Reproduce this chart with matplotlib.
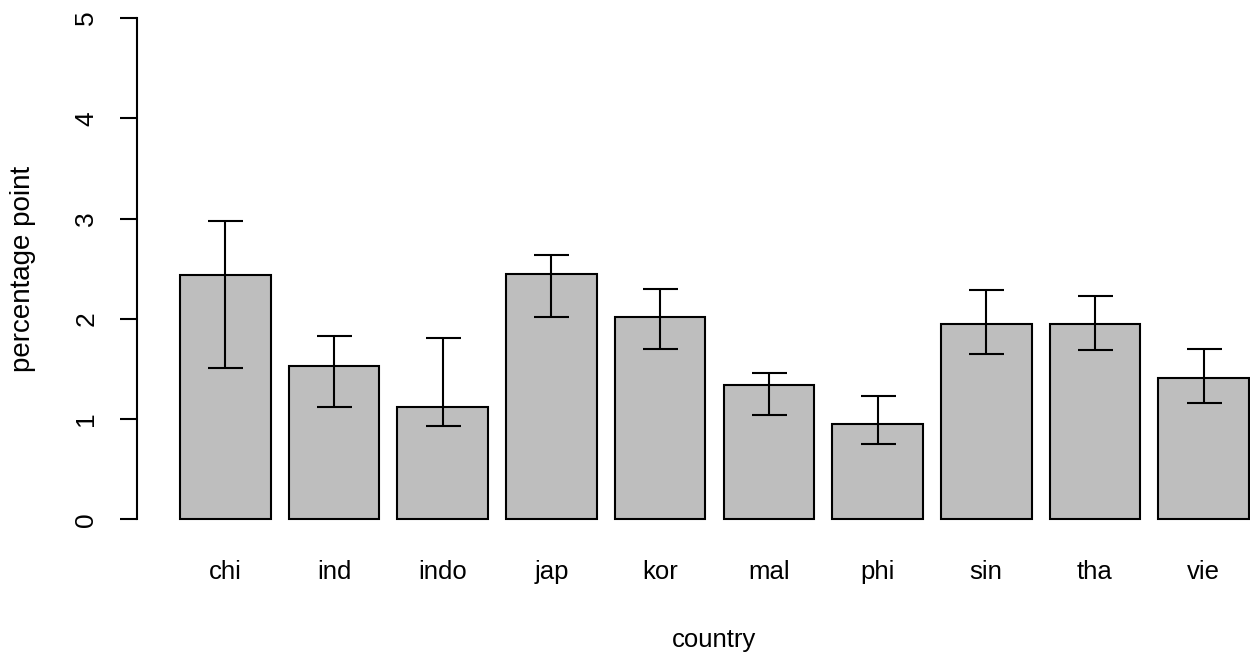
import numpy as np
import matplotlib
matplotlib.use('Agg')
import matplotlib.pyplot as plt

# datos
paises = ['chi', 'ind', 'indo', 'jap', 'kor', 'mal', 'phi', 'sin', 'tha', 'vie']
media = [2.44, 1.53, 1.12, 2.445, 2.02, 1.34, 0.95, 1.95, 1.95, 1.41]
err_inf = [1.51, 1.12, 0.93, 2.02, 1.70, 1.04, 0.755, 1.65, 1.69, 1.16]
err_sup = [2.98, 1.83, 1.81, 2.64, 2.30, 1.46, 1.23, 2.285, 2.23, 1.70]

plt.rcParams['font.family'] = ['Liberation Sans', 'DejaVu Sans']

fig = plt.figure(figsize=(12.5, 6.56), dpi=100)
W, H = 1250.0, 656.0
# region del grafico en pixeles (estilo barplot de R)
x0, x1 = 137.2, 1291.7
y0, y1 = -2.05, 539.35
ax = fig.add_axes([x0 / W, 1 - y1 / H, (x1 - x0) / W, (y1 - y0) / H])

n = len(paises)
centros = 0.7 + 1.2 * np.arange(n)
media = np.array(media)
abajo = media - np.array(err_inf)
arriba = np.array(err_sup) - media

lw = 1.5
ax.bar(centros, media, width=1.0, color='#BEBEBE', edgecolor='black', linewidth=lw)
ax.errorbar(centros, media, yerr=[abajo, arriba], fmt='none', ecolor='black',
            elinewidth=lw, capsize=12.6, capthick=lw)

ax.set_xlim(-0.272, 12.472)
ax.set_ylim(-0.2, 5.2)

for s in ['top', 'right', 'bottom']:
    ax.spines[s].set_visible(False)
ax.spines['left'].set_bounds(0, 5)
ax.spines['left'].set_linewidth(lw)

ax.set_yticks([0, 1, 2, 3, 4, 5])
ax.tick_params(axis='y', length=12, width=lw, pad=16, labelsize=19, labelrotation=90)
for t in ax.get_yticklabels():
    t.set_va('center')
ax.set_xticks(centros)
ax.set_xticklabels(paises)
ax.tick_params(axis='x', length=0, pad=15, labelsize=18.5)

ax.set_xlabel('country', fontsize=18.5)
ax.xaxis.set_label_coords(0.5, -0.163)
ax.set_ylabel('percentage point', fontsize=20, va='center')
ax.yaxis.set_label_coords((23 - x0) / (x1 - x0), 0.5)

plt.savefig('out.png', dpi=100)
